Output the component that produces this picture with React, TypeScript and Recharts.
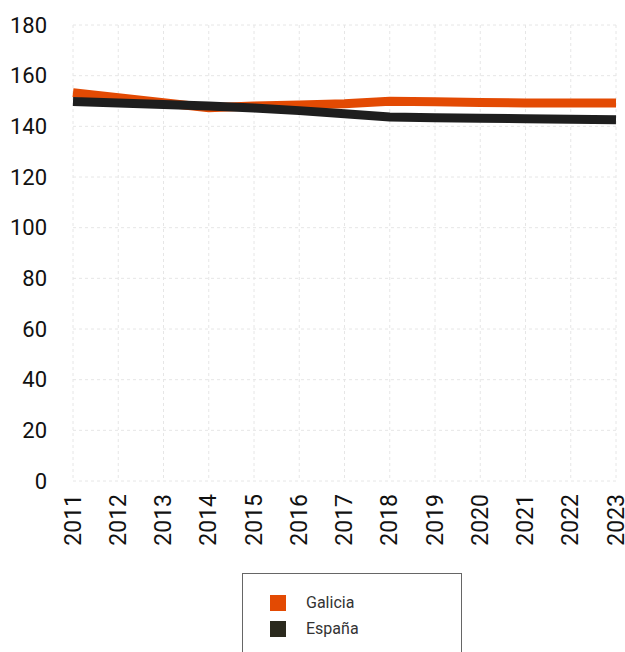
import React from "react";
import { LineChart, Line, XAxis, YAxis, CartesianGrid } from "recharts";

const years = ["2011", "2012", "2013", "2014", "2015", "2016", "2017", "2018", "2019", "2020", "2021", "2022", "2023"];
const galicia = [153.3, 151.3, 149.3, 147.3, 148.0, 148.4, 148.9, 149.9, 149.7, 149.4, 149.2, 149.2, 149.2];
const espana = [149.8, 149.2, 148.6, 148.0, 147.2, 146.2, 145.0, 143.7, 143.4, 143.2, 143.0, 142.8, 142.6];
const yTicks = [0, 20, 40, 60, 80, 100, 120, 140, 160, 180];

const data = years.map((y, i) => ({ year: y, galicia: galicia[i], espana: espana[i] }));

const FONT = "Roboto, sans-serif";

const XTick = (props: any) => {
  const { x, y, payload } = props;
  return (
    <text
      x={0}
      y={0}
      transform={`translate(${x},${y + 11}) rotate(-90)`}
      textAnchor="end"
      dominantBaseline="central"
      fontSize={23}
      fontFamily={FONT}
      fill="#111"
    >
      {payload.value}
    </text>
  );
};

export default function App() {
  return (
    <div style={{ position: "absolute", left: 0, top: 0, width: 625, height: 652, background: "#fff" }}>
      <LineChart width={625} height={652} data={data} margin={{ top: 25, right: 9, left: 0, bottom: 0 }}>
        <CartesianGrid stroke="#e6e6e6" strokeDasharray="3 3" vertical={true} horizontal={true} />
        <XAxis
          dataKey="year"
          axisLine={false}
          tickLine={false}
          tickSize={0}
          interval={0}
          tick={<XTick />}
          height={171}
        />
        <YAxis
          domain={[0, 180]}
          ticks={yTicks}
          axisLine={false}
          tickLine={false}
          tickSize={0}
          tickMargin={26}
          width={73}
          tick={{ fontSize: 22, fontFamily: FONT, fill: "#111" }}
        />
        <Line dataKey="galicia" stroke="#e34a03" strokeWidth={9} dot={false} isAnimationActive={false} type="linear" />
        <Line dataKey="espana" stroke="#1e1e1e" strokeWidth={9} dot={false} isAnimationActive={false} type="linear" />
      </LineChart>
      <div
        style={{
          position: "absolute",
          left: 242,
          top: 573,
          width: 220,
          height: 100,
          border: "1px solid #666",
          boxSizing: "border-box",
          fontFamily: FONT,
          fontSize: 16,
          color: "#333",
        }}
      >
        <div style={{ position: "absolute", left: 27, top: 21, width: 16, height: 16, background: "#e34a03" }} />
        <div style={{ position: "absolute", left: 63, top: 18, lineHeight: "22px" }}>Galicia</div>
        <div style={{ position: "absolute", left: 27, top: 47, width: 16, height: 16, background: "#2b2a1e" }} />
        <div style={{ position: "absolute", left: 63, top: 44, lineHeight: "22px" }}>España</div>
      </div>
    </div>
  );
}
